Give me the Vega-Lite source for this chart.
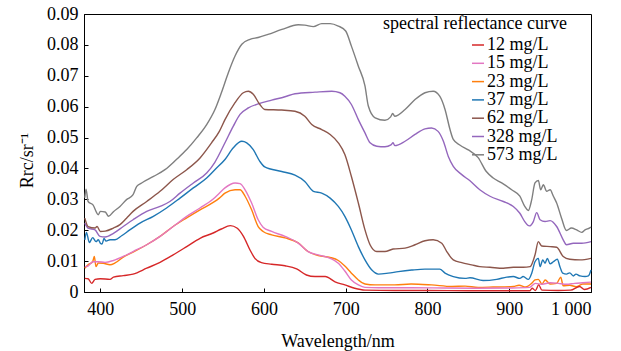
{
"$schema":"https://vega.github.io/schema/vega-lite/v6.json",
"width":507,"height":278,
"autosize":{"type":"none"},
"padding":{"left":84,"top":14,"right":30,"bottom":59},
"background":"white",
"config":{"font":"Liberation Serif","view":{"stroke":"black","strokeWidth":1},
"axis":{"grid":false,"domainColor":"black","tickColor":"black","tickSize":-4,"labelFont":"Liberation Serif","labelFontSize":18,"labelColor":"black","titleFont":"Liberation Serif","titleFontSize":18,"titleFontWeight":"normal","titleColor":"black"}},
"data":{"values":[
{"s":"573 mg/L","w":381,"r":0.0305},{"s":"573 mg/L","w":382.5,"r":0.0333},{"s":"573 mg/L","w":385,"r":0.0293},{"s":"573 mg/L","w":391,"r":0.0282},{"s":"573 mg/L","w":397.5,"r":0.025},{"s":"573 mg/L","w":400,"r":0.0261},{"s":"573 mg/L","w":406,"r":0.0259},{"s":"573 mg/L","w":410,"r":0.0245},{"s":"573 mg/L","w":416,"r":0.026},{"s":"573 mg/L","w":424,"r":0.0277},{"s":"573 mg/L","w":432,"r":0.0299},{"s":"573 mg/L","w":440,"r":0.0315},{"s":"573 mg/L","w":444.5,"r":0.0342},{"s":"573 mg/L","w":450.5,"r":0.0353},{"s":"573 mg/L","w":465,"r":0.0374},{"s":"573 mg/L","w":479,"r":0.0396},{"s":"573 mg/L","w":493,"r":0.0429},{"s":"573 mg/L","w":505.6,"r":0.0461},{"s":"573 mg/L","w":517.8,"r":0.0499},{"s":"573 mg/L","w":530,"r":0.0542},{"s":"573 mg/L","w":540,"r":0.059},{"s":"573 mg/L","w":548,"r":0.0645},{"s":"573 mg/L","w":556.5,"r":0.071},{"s":"573 mg/L","w":564.7,"r":0.0764},{"s":"573 mg/L","w":573,"r":0.0802},{"s":"573 mg/L","w":583,"r":0.0818},{"s":"573 mg/L","w":593,"r":0.0824},{"s":"573 mg/L","w":605,"r":0.0834},{"s":"573 mg/L","w":622,"r":0.085},{"s":"573 mg/L","w":642,"r":0.0865},{"s":"573 mg/L","w":650,"r":0.0864},{"s":"573 mg/L","w":660.5,"r":0.0859},{"s":"573 mg/L","w":670.7,"r":0.0869},{"s":"573 mg/L","w":681,"r":0.0869},{"s":"573 mg/L","w":691,"r":0.0861},{"s":"573 mg/L","w":700,"r":0.0845},{"s":"573 mg/L","w":707,"r":0.0796},{"s":"573 mg/L","w":715.5,"r":0.0731},{"s":"573 mg/L","w":723.6,"r":0.0667},{"s":"573 mg/L","w":727.7,"r":0.0602},{"s":"573 mg/L","w":736,"r":0.0564},{"s":"573 mg/L","w":748,"r":0.0556},{"s":"573 mg/L","w":755,"r":0.0567},{"s":"573 mg/L","w":757.5,"r":0.0578},{"s":"573 mg/L","w":760,"r":0.0569},{"s":"573 mg/L","w":772.6,"r":0.0591},{"s":"573 mg/L","w":784.8,"r":0.0623},{"s":"573 mg/L","w":797,"r":0.0645},{"s":"573 mg/L","w":807,"r":0.065},{"s":"573 mg/L","w":815,"r":0.0634},{"s":"573 mg/L","w":821.5,"r":0.0591},{"s":"573 mg/L","w":827.6,"r":0.0526},{"s":"573 mg/L","w":831.6,"r":0.0494},{"s":"573 mg/L","w":840,"r":0.0475},{"s":"573 mg/L","w":850,"r":0.046},{"s":"573 mg/L","w":862,"r":0.0435},{"s":"573 mg/L","w":872,"r":0.039},{"s":"573 mg/L","w":880,"r":0.037},{"s":"573 mg/L","w":890.8,"r":0.0353},{"s":"573 mg/L","w":903,"r":0.0331},{"s":"573 mg/L","w":913,"r":0.031},{"s":"573 mg/L","w":919,"r":0.0277},{"s":"573 mg/L","w":923.4,"r":0.0264},{"s":"573 mg/L","w":927.5,"r":0.0299},{"s":"573 mg/L","w":931.5,"r":0.0353},{"s":"573 mg/L","w":935.6,"r":0.0361},{"s":"573 mg/L","w":938.5,"r":0.0331},{"s":"573 mg/L","w":941.7,"r":0.0347},{"s":"573 mg/L","w":945.8,"r":0.0326},{"s":"573 mg/L","w":950,"r":0.0331},{"s":"573 mg/L","w":954,"r":0.031},{"s":"573 mg/L","w":958,"r":0.0288},{"s":"573 mg/L","w":964,"r":0.0239},{"s":"573 mg/L","w":970,"r":0.0199},{"s":"573 mg/L","w":976,"r":0.0207},{"s":"573 mg/L","w":982.5,"r":0.0201},{"s":"573 mg/L","w":988.7,"r":0.0193},{"s":"573 mg/L","w":992.7,"r":0.0201},{"s":"573 mg/L","w":998,"r":0.0207},{"s":"573 mg/L","w":1000,"r":0.021},
{"s":"328 mg/L","w":381,"r":0.0223},{"s":"328 mg/L","w":385,"r":0.0207},{"s":"328 mg/L","w":393.5,"r":0.0201},{"s":"328 mg/L","w":399.5,"r":0.018},{"s":"328 mg/L","w":405.7,"r":0.0178},{"s":"328 mg/L","w":416,"r":0.019},{"s":"328 mg/L","w":428,"r":0.0212},{"s":"328 mg/L","w":440,"r":0.0234},{"s":"328 mg/L","w":456.7,"r":0.0261},{"s":"328 mg/L","w":473,"r":0.0277},{"s":"328 mg/L","w":485,"r":0.0293},{"s":"328 mg/L","w":497.4,"r":0.032},{"s":"328 mg/L","w":513.7,"r":0.0353},{"s":"328 mg/L","w":530,"r":0.0385},{"s":"328 mg/L","w":540,"r":0.042},{"s":"328 mg/L","w":552.4,"r":0.0483},{"s":"328 mg/L","w":562.6,"r":0.0537},{"s":"328 mg/L","w":570.8,"r":0.0575},{"s":"328 mg/L","w":581,"r":0.0596},{"s":"328 mg/L","w":593,"r":0.0609},{"s":"328 mg/L","w":609.5,"r":0.0621},{"s":"328 mg/L","w":625.8,"r":0.0632},{"s":"328 mg/L","w":638,"r":0.0642},{"s":"328 mg/L","w":662.5,"r":0.0647},{"s":"328 mg/L","w":683,"r":0.065},{"s":"328 mg/L","w":693,"r":0.0645},{"s":"328 mg/L","w":699,"r":0.0634},{"s":"328 mg/L","w":707,"r":0.0607},{"s":"328 mg/L","w":715.5,"r":0.0558},{"s":"328 mg/L","w":723.6,"r":0.0515},{"s":"328 mg/L","w":729.8,"r":0.0483},{"s":"328 mg/L","w":738,"r":0.0472},{"s":"328 mg/L","w":748,"r":0.047},{"s":"328 mg/L","w":755.4,"r":0.0476},{"s":"328 mg/L","w":758,"r":0.0483},{"s":"328 mg/L","w":760,"r":0.0474},{"s":"328 mg/L","w":772.6,"r":0.0488},{"s":"328 mg/L","w":784.8,"r":0.051},{"s":"328 mg/L","w":797,"r":0.0528},{"s":"328 mg/L","w":805,"r":0.0531},{"s":"328 mg/L","w":813,"r":0.052},{"s":"328 mg/L","w":819.5,"r":0.0488},{"s":"328 mg/L","w":825.5,"r":0.0439},{"s":"328 mg/L","w":831.6,"r":0.0407},{"s":"328 mg/L","w":842,"r":0.038},{"s":"328 mg/L","w":852,"r":0.036},{"s":"328 mg/L","w":864,"r":0.0331},{"s":"328 mg/L","w":876.5,"r":0.031},{"s":"328 mg/L","w":892.8,"r":0.0293},{"s":"328 mg/L","w":905,"r":0.0277},{"s":"328 mg/L","w":913,"r":0.0255},{"s":"328 mg/L","w":919,"r":0.0228},{"s":"328 mg/L","w":924.6,"r":0.0214},{"s":"328 mg/L","w":929.5,"r":0.0228},{"s":"328 mg/L","w":933.6,"r":0.0257},{"s":"328 mg/L","w":937.7,"r":0.0234},{"s":"328 mg/L","w":943.8,"r":0.0228},{"s":"328 mg/L","w":950,"r":0.0231},{"s":"328 mg/L","w":958,"r":0.0212},{"s":"328 mg/L","w":966,"r":0.0169},{"s":"328 mg/L","w":970,"r":0.0153},{"s":"328 mg/L","w":978.4,"r":0.0158},{"s":"328 mg/L","w":988.7,"r":0.0158},{"s":"328 mg/L","w":1000,"r":0.0163},
{"s":"62 mg/L","w":381,"r":0.0239},{"s":"62 mg/L","w":385,"r":0.0212},{"s":"62 mg/L","w":393.5,"r":0.0207},{"s":"62 mg/L","w":396,"r":0.0212},{"s":"62 mg/L","w":400,"r":0.0196},{"s":"62 mg/L","w":406,"r":0.0197},{"s":"62 mg/L","w":416,"r":0.0207},{"s":"62 mg/L","w":424,"r":0.0218},{"s":"62 mg/L","w":432,"r":0.0239},{"s":"62 mg/L","w":440,"r":0.0261},{"s":"62 mg/L","w":456.7,"r":0.0293},{"s":"62 mg/L","w":473,"r":0.0326},{"s":"62 mg/L","w":489,"r":0.0364},{"s":"62 mg/L","w":505.6,"r":0.0396},{"s":"62 mg/L","w":521.9,"r":0.0434},{"s":"62 mg/L","w":536,"r":0.0483},{"s":"62 mg/L","w":545.5,"r":0.052},{"s":"62 mg/L","w":552.4,"r":0.0558},{"s":"62 mg/L","w":564.7,"r":0.0613},{"s":"62 mg/L","w":574.8,"r":0.0645},{"s":"62 mg/L","w":581,"r":0.065},{"s":"62 mg/L","w":587,"r":0.064},{"s":"62 mg/L","w":595,"r":0.0607},{"s":"62 mg/L","w":601,"r":0.0591},{"s":"62 mg/L","w":621.8,"r":0.0589},{"s":"62 mg/L","w":638,"r":0.0585},{"s":"62 mg/L","w":650,"r":0.0569},{"s":"62 mg/L","w":658.5,"r":0.0542},{"s":"62 mg/L","w":670.7,"r":0.0526},{"s":"62 mg/L","w":681,"r":0.051},{"s":"62 mg/L","w":691,"r":0.0483},{"s":"62 mg/L","w":699,"r":0.0445},{"s":"62 mg/L","w":707,"r":0.0374},{"s":"62 mg/L","w":715.5,"r":0.0288},{"s":"62 mg/L","w":723.6,"r":0.0201},{"s":"62 mg/L","w":729.8,"r":0.0153},{"s":"62 mg/L","w":738,"r":0.0131},{"s":"62 mg/L","w":748,"r":0.0131},{"s":"62 mg/L","w":758,"r":0.0139},{"s":"62 mg/L","w":772.6,"r":0.0142},{"s":"62 mg/L","w":784.8,"r":0.0153},{"s":"62 mg/L","w":797,"r":0.0166},{"s":"62 mg/L","w":807,"r":0.0169},{"s":"62 mg/L","w":817.5,"r":0.0158},{"s":"62 mg/L","w":823.6,"r":0.0131},{"s":"62 mg/L","w":831.6,"r":0.0104},{"s":"62 mg/L","w":842,"r":0.0095},{"s":"62 mg/L","w":854,"r":0.0088},{"s":"62 mg/L","w":864,"r":0.0082},{"s":"62 mg/L","w":876.5,"r":0.008},{"s":"62 mg/L","w":892.8,"r":0.0077},{"s":"62 mg/L","w":905,"r":0.008},{"s":"62 mg/L","w":917,"r":0.008},{"s":"62 mg/L","w":925.5,"r":0.0082},{"s":"62 mg/L","w":931.5,"r":0.012},{"s":"62 mg/L","w":935.6,"r":0.0163},{"s":"62 mg/L","w":939.7,"r":0.0149},{"s":"62 mg/L","w":950,"r":0.0147},{"s":"62 mg/L","w":958,"r":0.0145},{"s":"62 mg/L","w":966,"r":0.0115},{"s":"62 mg/L","w":974,"r":0.0106},{"s":"62 mg/L","w":986.6,"r":0.0104},{"s":"62 mg/L","w":1000,"r":0.0109},
{"s":"37 mg/L","w":381,"r":0.0169},{"s":"37 mg/L","w":383,"r":0.0193},{"s":"37 mg/L","w":386.5,"r":0.016},{"s":"37 mg/L","w":390.6,"r":0.0176},{"s":"37 mg/L","w":394.7,"r":0.0163},{"s":"37 mg/L","w":397.5,"r":0.0169},{"s":"37 mg/L","w":400,"r":0.0158},{"s":"37 mg/L","w":402,"r":0.0155},{"s":"37 mg/L","w":404.5,"r":0.0173},{"s":"37 mg/L","w":407,"r":0.0165},{"s":"37 mg/L","w":411.8,"r":0.0169},{"s":"37 mg/L","w":418,"r":0.0169},{"s":"37 mg/L","w":426,"r":0.0182},{"s":"37 mg/L","w":436,"r":0.0201},{"s":"37 mg/L","w":448.5,"r":0.0223},{"s":"37 mg/L","w":464.8,"r":0.0245},{"s":"37 mg/L","w":481,"r":0.0272},{"s":"37 mg/L","w":497.4,"r":0.0304},{"s":"37 mg/L","w":513.7,"r":0.0337},{"s":"37 mg/L","w":530,"r":0.0369},{"s":"37 mg/L","w":540,"r":0.0396},{"s":"37 mg/L","w":552.4,"r":0.0429},{"s":"37 mg/L","w":562.6,"r":0.0467},{"s":"37 mg/L","w":573,"r":0.0488},{"s":"37 mg/L","w":579,"r":0.0483},{"s":"37 mg/L","w":587,"r":0.0461},{"s":"37 mg/L","w":595,"r":0.0423},{"s":"37 mg/L","w":601,"r":0.0405},{"s":"37 mg/L","w":621.8,"r":0.039},{"s":"37 mg/L","w":638,"r":0.0378},{"s":"37 mg/L","w":650,"r":0.0358},{"s":"37 mg/L","w":660.5,"r":0.0326},{"s":"37 mg/L","w":670.7,"r":0.032},{"s":"37 mg/L","w":681,"r":0.0304},{"s":"37 mg/L","w":691,"r":0.0277},{"s":"37 mg/L","w":699,"r":0.0245},{"s":"37 mg/L","w":707,"r":0.0201},{"s":"37 mg/L","w":715.5,"r":0.0147},{"s":"37 mg/L","w":723.6,"r":0.0104},{"s":"37 mg/L","w":732,"r":0.0071},{"s":"37 mg/L","w":740,"r":0.0058},{"s":"37 mg/L","w":752,"r":0.0061},{"s":"37 mg/L","w":764.4,"r":0.0066},{"s":"37 mg/L","w":780.8,"r":0.0071},{"s":"37 mg/L","w":797,"r":0.0074},{"s":"37 mg/L","w":815,"r":0.0074},{"s":"37 mg/L","w":821.5,"r":0.0061},{"s":"37 mg/L","w":831.6,"r":0.005},{"s":"37 mg/L","w":846,"r":0.0044},{"s":"37 mg/L","w":852,"r":0.0046},{"s":"37 mg/L","w":868,"r":0.0037},{"s":"37 mg/L","w":884.7,"r":0.0041},{"s":"37 mg/L","w":897,"r":0.0048},{"s":"37 mg/L","w":905,"r":0.005},{"s":"37 mg/L","w":913,"r":0.0044},{"s":"37 mg/L","w":917,"r":0.005},{"s":"37 mg/L","w":923.4,"r":0.0041},{"s":"37 mg/L","w":927.5,"r":0.0061},{"s":"37 mg/L","w":931.5,"r":0.0098},{"s":"37 mg/L","w":935.6,"r":0.0109},{"s":"37 mg/L","w":937.7,"r":0.0082},{"s":"37 mg/L","w":941,"r":0.0104},{"s":"37 mg/L","w":943.8,"r":0.0093},{"s":"37 mg/L","w":946.6,"r":0.0109},{"s":"37 mg/L","w":950,"r":0.0091},{"s":"37 mg/L","w":954,"r":0.0098},{"s":"37 mg/L","w":958.8,"r":0.0106},{"s":"37 mg/L","w":962,"r":0.0082},{"s":"37 mg/L","w":965.4,"r":0.0061},{"s":"37 mg/L","w":970,"r":0.0058},{"s":"37 mg/L","w":974,"r":0.0062},{"s":"37 mg/L","w":978.4,"r":0.0052},{"s":"37 mg/L","w":981.6,"r":0.0058},{"s":"37 mg/L","w":986.6,"r":0.0052},{"s":"37 mg/L","w":992.7,"r":0.005},{"s":"37 mg/L","w":996.8,"r":0.0052},{"s":"37 mg/L","w":1000,"r":0.0071},
{"s":"23 mg/L","w":381,"r":0.0077},{"s":"23 mg/L","w":385,"r":0.0088},{"s":"23 mg/L","w":390.6,"r":0.0098},{"s":"23 mg/L","w":392.6,"r":0.0115},{"s":"23 mg/L","w":394.7,"r":0.0082},{"s":"23 mg/L","w":397.5,"r":0.0094},{"s":"23 mg/L","w":403.6,"r":0.0093},{"s":"23 mg/L","w":411.8,"r":0.0088},{"s":"23 mg/L","w":418,"r":0.0094},{"s":"23 mg/L","w":428,"r":0.0113},{"s":"23 mg/L","w":440,"r":0.0129},{"s":"23 mg/L","w":456.7,"r":0.0153},{"s":"23 mg/L","w":473,"r":0.018},{"s":"23 mg/L","w":489,"r":0.0212},{"s":"23 mg/L","w":505.6,"r":0.024},{"s":"23 mg/L","w":521.9,"r":0.0266},{"s":"23 mg/L","w":538,"r":0.029},{"s":"23 mg/L","w":545.5,"r":0.0304},{"s":"23 mg/L","w":552.4,"r":0.032},{"s":"23 mg/L","w":564.7,"r":0.0331},{"s":"23 mg/L","w":570.8,"r":0.0331},{"s":"23 mg/L","w":577,"r":0.031},{"s":"23 mg/L","w":585,"r":0.0266},{"s":"23 mg/L","w":593,"r":0.0212},{"s":"23 mg/L","w":599,"r":0.0196},{"s":"23 mg/L","w":609.5,"r":0.0185},{"s":"23 mg/L","w":625.8,"r":0.0175},{"s":"23 mg/L","w":642,"r":0.0159},{"s":"23 mg/L","w":654,"r":0.0131},{"s":"23 mg/L","w":666.5,"r":0.0118},{"s":"23 mg/L","w":681,"r":0.0112},{"s":"23 mg/L","w":691,"r":0.0102},{"s":"23 mg/L","w":699,"r":0.0084},{"s":"23 mg/L","w":707,"r":0.0061},{"s":"23 mg/L","w":715.5,"r":0.0039},{"s":"23 mg/L","w":723.6,"r":0.0026},{"s":"23 mg/L","w":736,"r":0.0023},{"s":"23 mg/L","w":760,"r":0.0023},{"s":"23 mg/L","w":780,"r":0.0026},{"s":"23 mg/L","w":805,"r":0.0023},{"s":"23 mg/L","w":830,"r":0.0018},{"s":"23 mg/L","w":846,"r":0.0019},{"s":"23 mg/L","w":862,"r":0.0015},{"s":"23 mg/L","w":880,"r":0.0016},{"s":"23 mg/L","w":905,"r":0.0018},{"s":"23 mg/L","w":912,"r":0.0022},{"s":"23 mg/L","w":920,"r":0.0016},{"s":"23 mg/L","w":927.5,"r":0.0028},{"s":"23 mg/L","w":931.5,"r":0.0039},{"s":"23 mg/L","w":935.6,"r":0.0041},{"s":"23 mg/L","w":940,"r":0.0026},{"s":"23 mg/L","w":944,"r":0.0039},{"s":"23 mg/L","w":950,"r":0.0026},{"s":"23 mg/L","w":958,"r":0.0028},{"s":"23 mg/L","w":963,"r":0.0048},{"s":"23 mg/L","w":966,"r":0.002},{"s":"23 mg/L","w":974,"r":0.0022},{"s":"23 mg/L","w":982,"r":0.0017},{"s":"23 mg/L","w":990,"r":0.0026},{"s":"23 mg/L","w":1000,"r":0.0026},
{"s":"15 mg/L","w":381,"r":0.0082},{"s":"15 mg/L","w":385,"r":0.0084},{"s":"15 mg/L","w":391,"r":0.0098},{"s":"15 mg/L","w":397.5,"r":0.0098},{"s":"15 mg/L","w":405.7,"r":0.0096},{"s":"15 mg/L","w":416,"r":0.0102},{"s":"15 mg/L","w":428,"r":0.0115},{"s":"15 mg/L","w":440,"r":0.0131},{"s":"15 mg/L","w":456.7,"r":0.0153},{"s":"15 mg/L","w":473,"r":0.018},{"s":"15 mg/L","w":489,"r":0.0212},{"s":"15 mg/L","w":505.6,"r":0.0245},{"s":"15 mg/L","w":521.9,"r":0.0272},{"s":"15 mg/L","w":538,"r":0.0301},{"s":"15 mg/L","w":545.5,"r":0.032},{"s":"15 mg/L","w":552.4,"r":0.0337},{"s":"15 mg/L","w":564.7,"r":0.0353},{"s":"15 mg/L","w":570.8,"r":0.0351},{"s":"15 mg/L","w":577,"r":0.0331},{"s":"15 mg/L","w":585,"r":0.0288},{"s":"15 mg/L","w":593,"r":0.0234},{"s":"15 mg/L","w":599,"r":0.021},{"s":"15 mg/L","w":609.5,"r":0.0196},{"s":"15 mg/L","w":625.8,"r":0.018},{"s":"15 mg/L","w":642,"r":0.0158},{"s":"15 mg/L","w":654,"r":0.0131},{"s":"15 mg/L","w":666.5,"r":0.012},{"s":"15 mg/L","w":681,"r":0.0109},{"s":"15 mg/L","w":691,"r":0.0093},{"s":"15 mg/L","w":699,"r":0.0068},{"s":"15 mg/L","w":707,"r":0.0039},{"s":"15 mg/L","w":715.5,"r":0.0023},{"s":"15 mg/L","w":723.6,"r":0.0015},{"s":"15 mg/L","w":740,"r":0.0014},{"s":"15 mg/L","w":780,"r":0.0014},{"s":"15 mg/L","w":820,"r":0.0013},{"s":"15 mg/L","w":860,"r":0.0012},{"s":"15 mg/L","w":900,"r":0.0013},{"s":"15 mg/L","w":925,"r":0.0015},{"s":"15 mg/L","w":932,"r":0.0028},{"s":"15 mg/L","w":940,"r":0.0025},{"s":"15 mg/L","w":950,"r":0.003},{"s":"15 mg/L","w":960,"r":0.0028},{"s":"15 mg/L","w":970,"r":0.0025},{"s":"15 mg/L","w":980,"r":0.0028},{"s":"15 mg/L","w":990,"r":0.003},{"s":"15 mg/L","w":1000,"r":0.0032},
{"s":"12 mg/L","w":381,"r":0.0044},{"s":"12 mg/L","w":385,"r":0.0043},{"s":"12 mg/L","w":389.4,"r":0.0028},{"s":"12 mg/L","w":393.5,"r":0.0041},{"s":"12 mg/L","w":400,"r":0.0043},{"s":"12 mg/L","w":411.8,"r":0.0041},{"s":"12 mg/L","w":416,"r":0.0048},{"s":"12 mg/L","w":428,"r":0.0053},{"s":"12 mg/L","w":440,"r":0.0058},{"s":"12 mg/L","w":456.7,"r":0.0077},{"s":"12 mg/L","w":473,"r":0.0096},{"s":"12 mg/L","w":489,"r":0.012},{"s":"12 mg/L","w":505.6,"r":0.0147},{"s":"12 mg/L","w":521.9,"r":0.0174},{"s":"12 mg/L","w":538,"r":0.0191},{"s":"12 mg/L","w":548,"r":0.0204},{"s":"12 mg/L","w":559,"r":0.0215},{"s":"12 mg/L","w":567,"r":0.0207},{"s":"12 mg/L","w":575,"r":0.018},{"s":"12 mg/L","w":583,"r":0.0136},{"s":"12 mg/L","w":589,"r":0.0109},{"s":"12 mg/L","w":597,"r":0.0095},{"s":"12 mg/L","w":609.5,"r":0.009},{"s":"12 mg/L","w":625.8,"r":0.0085},{"s":"12 mg/L","w":640,"r":0.0075},{"s":"12 mg/L","w":652,"r":0.0055},{"s":"12 mg/L","w":662.5,"r":0.005},{"s":"12 mg/L","w":675,"r":0.005},{"s":"12 mg/L","w":687,"r":0.0033},{"s":"12 mg/L","w":699,"r":0.0023},{"s":"12 mg/L","w":711,"r":0.0012},{"s":"12 mg/L","w":723.6,"r":0.0006},{"s":"12 mg/L","w":760,"r":0.0005},{"s":"12 mg/L","w":800,"r":0.0005},{"s":"12 mg/L","w":850,"r":0.0004},{"s":"12 mg/L","w":900,"r":0.0004},{"s":"12 mg/L","w":925,"r":0.0004},{"s":"12 mg/L","w":928,"r":0.0012},{"s":"12 mg/L","w":932,"r":0.0005},{"s":"12 mg/L","w":936,"r":0.0023},{"s":"12 mg/L","w":940,"r":0.0006},{"s":"12 mg/L","w":960,"r":0.0005},{"s":"12 mg/L","w":975,"r":0.0006},{"s":"12 mg/L","w":986,"r":0.0018},{"s":"12 mg/L","w":992,"r":0.0008},{"s":"12 mg/L","w":1000,"r":0.0015}
]},
"mark":{"type":"line","strokeWidth":1.4,"interpolate":"monotone"},
"encoding":{
"x":{"field":"w","type":"quantitative","scale":{"domain":[380,1000],"nice":false,"zero":false},
"axis":{"title":"Wavelength/nm","values":[400,500,600,700,800,900,1000],"labelExpr":"datum.value == 1000 ? '1 000' : datum.label","labelPadding":12,"titlePadding":14}},
"y":{"field":"r","type":"quantitative","scale":{"domain":[0,0.09],"nice":false},
"axis":{"title":"Rrc/sr⁻¹","titleY":146,"values":[0,0.01,0.02,0.03,0.04,0.05,0.06,0.07,0.08,0.09],"format":".2~f","labelPadding":10,"titlePadding":10}},
"color":{"field":"s","type":"nominal",
"scale":{"domain":["12 mg/L","15 mg/L","23 mg/L","37 mg/L","62 mg/L","328 mg/L","573 mg/L"],"range":["#d62728","#e377c2","#ff7f0e","#1f77b4","#8c564b","#9467bd","#7f7f7f"]},
"legend":{"orient":"none","legendX":299,"legendY":1,"title":"spectral reflectance curve","titleFont":"Liberation Serif","titleFontSize":18,"titleFontWeight":"normal","titleColor":"black","titlePadding":3,"titleLimit":400,"symbolType":"stroke","symbolSize":144,"symbolStrokeWidth":1.5,"symbolOffset":86,"labelFont":"Liberation Serif","labelFontSize":18,"labelColor":"black","labelOffset":0,"labelLimit":300,"rowPadding":0.3,"padding":0}},
"order":{"field":"w","type":"quantitative"}
}
}
